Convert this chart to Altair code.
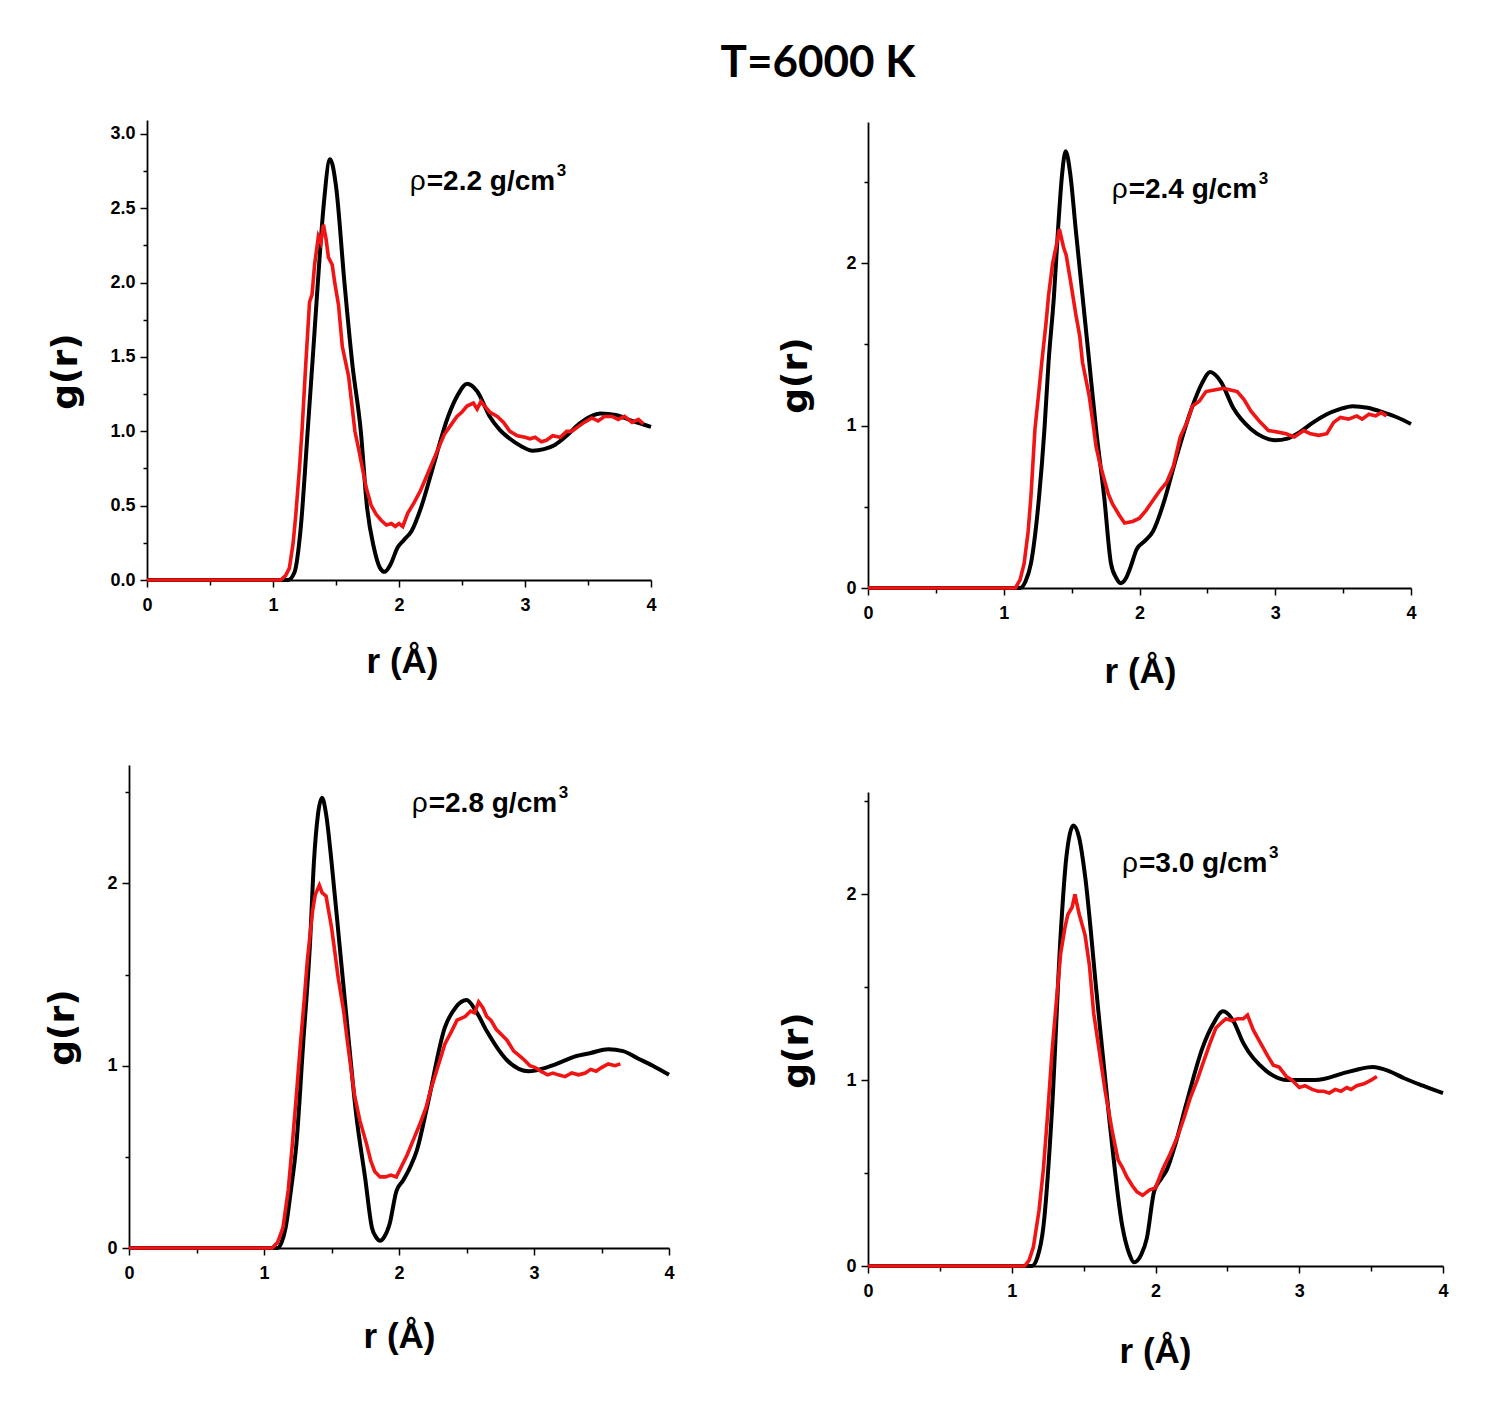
import altair as alt
import pandas as pd

# ---- g(r) curves at T = 6000 K, four densities ----
# black: reference model, red: simulation
R_BLACK_22 = [0, 1.12, 1.17, 1.22, 1.275, 1.32, 1.356, 1.40, 1.453, 1.50, 1.567, 1.63, 1.697, 1.745, 1.80, 1.85, 1.885, 1.93, 1.99, 2.04, 2.10, 2.18, 2.26, 2.39, 2.47, 2.54, 2.62, 2.72, 2.80, 2.88, 2.97, 3.06, 3.15, 3.24, 3.33, 3.43, 3.52, 3.60, 3.72, 3.85, 4.0]
G_BLACK_22 = [0, 0, 0.05, 0.35, 1.0, 1.55, 2.0, 2.5, 2.83, 2.65, 2.0, 1.45, 1.0, 0.5, 0.22, 0.08, 0.055, 0.10, 0.22, 0.27, 0.33, 0.50, 0.73, 1.10, 1.25, 1.32, 1.27, 1.10, 1.01, 0.95, 0.90, 0.87, 0.88, 0.91, 0.97, 1.05, 1.10, 1.12, 1.11, 1.07, 1.03]
R_RED_22 = [0, 1.06, 1.10, 1.13, 1.16, 1.18, 1.21, 1.23, 1.26, 1.29, 1.31, 1.33, 1.36, 1.38, 1.40, 1.42, 1.44, 1.47, 1.49, 1.52, 1.55, 1.58, 1.60, 1.63, 1.65, 1.68, 1.71, 1.74, 1.78, 1.82, 1.86, 1.90, 1.94, 1.97, 2.00, 2.03, 2.07, 2.12, 2.17, 2.22, 2.26, 2.31, 2.36, 2.41, 2.46, 2.50, 2.54, 2.59, 2.62, 2.65, 2.68, 2.72, 2.78, 2.83, 2.88, 2.94, 3.00, 3.04, 3.08, 3.13, 3.17, 3.22, 3.28, 3.33, 3.37, 3.42, 3.47, 3.53, 3.58, 3.63, 3.69, 3.74, 3.79, 3.85, 3.90, 3.94]
G_RED_22 = [0, 0, 0.03, 0.08, 0.25, 0.43, 0.75, 1.0, 1.45, 1.87, 1.92, 2.12, 2.31, 2.27, 2.39, 2.30, 2.17, 2.12, 2.0, 1.85, 1.57, 1.45, 1.37, 1.15, 1.0, 0.88, 0.75, 0.62, 0.50, 0.44, 0.40, 0.37, 0.38, 0.36, 0.38, 0.36, 0.45, 0.52, 0.60, 0.70, 0.78, 0.88, 0.98, 1.04, 1.10, 1.13, 1.17, 1.19, 1.15, 1.20, 1.17, 1.13, 1.10, 1.06, 1.00, 0.97, 0.96, 0.95, 0.96, 0.93, 0.94, 0.97, 0.96, 1.00, 1.00, 1.03, 1.06, 1.09, 1.07, 1.10, 1.10, 1.08, 1.10, 1.06, 1.08, 1.05]

R_BLACK_24 = [0, 1.12, 1.16, 1.20, 1.26, 1.30, 1.33, 1.37, 1.40, 1.43, 1.456, 1.49, 1.53, 1.58, 1.63, 1.68, 1.74, 1.79, 1.83, 1.86, 1.90, 1.93, 1.98, 2.04, 2.10, 2.18, 2.26, 2.39, 2.46, 2.52, 2.60, 2.69, 2.82, 2.91, 3.0, 3.09, 3.18, 3.28, 3.38, 3.47, 3.57, 3.68, 3.80, 3.90, 4.0]
G_BLACK_24 = [0, 0, 0.04, 0.15, 0.56, 0.98, 1.39, 1.80, 2.21, 2.55, 2.69, 2.55, 2.21, 1.80, 1.39, 0.98, 0.56, 0.15, 0.06, 0.03, 0.06, 0.12, 0.24, 0.29, 0.35, 0.53, 0.77, 1.12, 1.26, 1.33, 1.27, 1.11, 0.98, 0.93, 0.91, 0.92, 0.96, 1.02, 1.07, 1.10, 1.12, 1.11, 1.08, 1.05, 1.01]
R_RED_24 = [0, 1.086, 1.12, 1.15, 1.18, 1.20, 1.23, 1.26, 1.28, 1.31, 1.33, 1.36, 1.39, 1.41, 1.44, 1.46, 1.49, 1.53, 1.56, 1.58, 1.63, 1.66, 1.68, 1.71, 1.74, 1.77, 1.80, 1.85, 1.89, 1.95, 2.0, 2.05, 2.10, 2.15, 2.20, 2.25, 2.30, 2.35, 2.39, 2.44, 2.49, 2.55, 2.62, 2.67, 2.72, 2.77, 2.82, 2.88, 2.95, 3.02, 3.08, 3.14, 3.21, 3.26, 3.32, 3.38, 3.43, 3.48, 3.54, 3.60, 3.64, 3.69, 3.74, 3.78, 3.82]
G_RED_24 = [0, 0, 0.05, 0.15, 0.35, 0.56, 0.98, 1.22, 1.39, 1.62, 1.80, 2.00, 2.12, 2.21, 2.10, 2.05, 1.90, 1.69, 1.55, 1.39, 1.18, 1.00, 0.87, 0.76, 0.67, 0.58, 0.52, 0.45, 0.40, 0.41, 0.43, 0.48, 0.54, 0.60, 0.65, 0.75, 0.93, 1.02, 1.12, 1.15, 1.21, 1.22, 1.23, 1.22, 1.21, 1.16, 1.09, 1.03, 0.97, 0.96, 0.95, 0.93, 0.97, 0.95, 0.94, 0.95, 1.02, 1.05, 1.04, 1.06, 1.04, 1.07, 1.06, 1.08, 1.06]

R_BLACK_28 = [0, 1.10, 1.13, 1.16, 1.20, 1.24, 1.29, 1.34, 1.37, 1.40, 1.43, 1.46, 1.50, 1.56, 1.63, 1.68, 1.75, 1.80, 1.83, 1.86, 1.89, 1.93, 1.98, 2.03, 2.08, 2.13, 2.21, 2.34, 2.42, 2.50, 2.57, 2.65, 2.80, 2.96, 3.09, 3.20, 3.30, 3.42, 3.55, 3.66, 3.77, 3.88, 4.0]
G_BLACK_28 = [0, 0, 0.03, 0.11, 0.32, 0.57, 1.12, 1.66, 2.12, 2.38, 2.47, 2.38, 2.12, 1.66, 1.12, 0.75, 0.38, 0.11, 0.06, 0.04, 0.06, 0.13, 0.31, 0.37, 0.44, 0.53, 0.78, 1.21, 1.32, 1.36, 1.30, 1.19, 1.03, 0.97, 0.99, 1.02, 1.05, 1.07, 1.09, 1.08, 1.04, 1.0, 0.95]
R_RED_28 = [0, 1.06, 1.10, 1.14, 1.18, 1.21, 1.24, 1.27, 1.30, 1.32, 1.36, 1.38, 1.41, 1.43, 1.46, 1.50, 1.52, 1.55, 1.59, 1.62, 1.67, 1.71, 1.76, 1.79, 1.82, 1.86, 1.90, 1.94, 1.98, 2.02, 2.06, 2.11, 2.16, 2.20, 2.24, 2.29, 2.34, 2.39, 2.43, 2.46, 2.49, 2.53, 2.56, 2.59, 2.62, 2.65, 2.68, 2.72, 2.76, 2.80, 2.85, 2.90, 2.93, 2.97, 3.01, 3.05, 3.10, 3.14, 3.18, 3.23, 3.28, 3.33, 3.38, 3.42, 3.46, 3.50, 3.55, 3.60, 3.64]
G_RED_28 = [0, 0, 0.03, 0.11, 0.32, 0.57, 0.84, 1.12, 1.38, 1.57, 1.85, 1.94, 1.99, 1.95, 1.93, 1.76, 1.65, 1.48, 1.30, 1.12, 0.84, 0.70, 0.57, 0.48, 0.42, 0.39, 0.39, 0.40, 0.39, 0.45, 0.51, 0.60, 0.69, 0.77, 0.88, 1.00, 1.12, 1.19, 1.25, 1.26, 1.27, 1.30, 1.29, 1.35, 1.32, 1.27, 1.25, 1.20, 1.17, 1.14, 1.08, 1.05, 1.03, 1.00, 0.99, 0.97, 0.95, 0.96, 0.95, 0.94, 0.96, 0.95, 0.96, 0.98, 0.97, 0.99, 1.01, 1.00, 1.01]

R_BLACK_30 = [0, 1.14, 1.18, 1.22, 1.28, 1.34, 1.38, 1.43, 1.47, 1.51, 1.59, 1.68, 1.77, 1.82, 1.85, 1.90, 1.94, 1.99, 2.04, 2.08, 2.14, 2.21, 2.33, 2.40, 2.47, 2.54, 2.61, 2.77, 2.92, 3.11, 3.32, 3.42, 3.51, 3.62, 3.73, 3.86, 4.0]
G_BLACK_30 = [0, 0, 0.05, 0.21, 0.84, 1.78, 2.20, 2.37, 2.30, 2.10, 1.47, 0.78, 0.21, 0.06, 0.02, 0.06, 0.15, 0.40, 0.47, 0.52, 0.66, 0.86, 1.18, 1.30, 1.37, 1.32, 1.20, 1.05, 1.00, 1.00, 1.04, 1.06, 1.07, 1.05, 1.01, 0.97, 0.93]
R_RED_30 = [0, 1.09, 1.12, 1.15, 1.19, 1.22, 1.25, 1.28, 1.31, 1.34, 1.37, 1.39, 1.42, 1.44, 1.45, 1.47, 1.51, 1.54, 1.57, 1.61, 1.65, 1.70, 1.74, 1.77, 1.80, 1.84, 1.87, 1.91, 1.96, 2.00, 2.05, 2.10, 2.15, 2.20, 2.24, 2.29, 2.33, 2.38, 2.42, 2.46, 2.49, 2.53, 2.57, 2.61, 2.64, 2.68, 2.73, 2.78, 2.82, 2.86, 2.91, 2.95, 3.00, 3.04, 3.09, 3.13, 3.17, 3.21, 3.25, 3.29, 3.33, 3.36, 3.40, 3.45, 3.50, 3.54]
G_RED_30 = [0, 0, 0.03, 0.10, 0.30, 0.52, 0.82, 1.15, 1.42, 1.68, 1.82, 1.89, 1.93, 2.00, 1.96, 1.89, 1.78, 1.62, 1.36, 1.15, 0.94, 0.72, 0.57, 0.53, 0.48, 0.43, 0.40, 0.38, 0.41, 0.42, 0.52, 0.60, 0.69, 0.80, 0.90, 1.00, 1.09, 1.20, 1.28, 1.31, 1.33, 1.32, 1.33, 1.33, 1.35, 1.27, 1.20, 1.13, 1.08, 1.07, 1.02, 1.00, 0.96, 0.97, 0.95, 0.94, 0.94, 0.93, 0.95, 0.94, 0.96, 0.95, 0.97, 0.98, 1.0, 1.02]

DENSITIES = ["2.2", "2.4", "2.8", "3.0"]
X_TICKS = [0, 0.5, 1, 1.5, 2, 2.5, 3, 3.5, 4]

FONT = "Liberation Sans"
RED = "#f01414"

# Canvas: one shared drawing area below the figure title; each panel owns a
# pixel box inside it (left, right, bottom, top) via its scale ranges.
W, TOP = 1488, 100
H = 1417 - TOP

LAYOUT = [
    dict(box=(147, 651, 580, 120), ymax=3.094, minor=0.25, major=0.5, fmt=".1f",
         lx=2.22, ly=2.62, ytx=-82, yty=371, xtx=402, xty=92),
    dict(box=(868, 1411, 588, 122), ymax=2.87, minor=0.5, major=1, fmt="d",
         lx=1.92, ly=2.40, ytx=-73, yty=375, xtx=1140, xty=94),
    dict(box=(129, 669, 1248, 765), ymax=2.65, minor=0.5, major=1, fmt="d",
         lx=2.22, ly=2.39, ytx=-67, yty=1027, xtx=399, xty=99),
    dict(box=(868, 1443, 1266, 792), ymax=2.55, minor=0.5, major=1, fmt="d",
         lx=1.885, ly=2.12, ytx=-72, yty=1050, xtx=1155, xty=96),
]

CURVES = [
    (R_BLACK_22, G_BLACK_22, R_RED_22, G_RED_22),
    (R_BLACK_24, G_BLACK_24, R_RED_24, G_RED_24),
    (R_BLACK_28, G_BLACK_28, R_RED_28, G_RED_28),
    (R_BLACK_30, G_BLACK_30, R_RED_30, G_RED_30),
]


def panel(curves, density, cfg):
    rb, gb, rr, gr = curves
    black = pd.DataFrame({"r": rb, "g": gb})
    red = pd.DataFrame({"r": rr, "g": gr})
    left, right, bottom, top = cfg["box"]

    n = int(cfg["ymax"] / cfg["minor"] + 1e-6)
    y_ticks = [round(i * cfg["minor"], 2) for i in range(n + 1)]
    major = cfg["major"]
    fmt = cfg["fmt"]
    is_major = f"abs(datum.value / {major} - round(datum.value / {major})) < 0.001"

    x_axis = alt.Axis(
        orient="bottom", offset=(bottom - TOP) - H,
        values=X_TICKS, title="r (Å)",
        labelExpr="datum.value % 1 == 0 ? format(datum.value, 'd') : ''",
        tickSize={"condition": {"test": "datum.value % 1 == 0", "value": 7}, "value": 5},
        labelFont=FONT, labelFontSize=18, labelFontWeight="bold", labelColor="black",
        labelPadding=9, labelFlush=False,
        titleFont=FONT, titleFontSize=35, titleFontWeight="bold", titleColor="black",
        titleX=cfg["xtx"], titleY=cfg["xty"], titleBaseline="alphabetic",
        domainColor="black", domainWidth=1.8, tickColor="black", tickWidth=1.5,
        grid=False,
    )
    y_axis = alt.Axis(
        orient="left", offset=-left,
        values=y_ticks, title="g(r)",
        labelExpr=f"{is_major} ? format(datum.value, '{fmt}') : ''",
        tickSize={"condition": {"test": is_major, "value": 7}, "value": 4},
        labelFont=FONT, labelFontSize=18, labelFontWeight="bold", labelColor="black",
        labelPadding=5, labelFlush=False,
        titleFont="DejaVu Sans", titleFontSize=36, titleFontWeight="bold", titleColor="black",
        titleX=cfg["ytx"], titleY=cfg["yty"] - TOP, titleBaseline="middle", titleAngle=270,
        domainColor="black", domainWidth=1.8, tickColor="black", tickWidth=1.5,
        grid=False,
    )
    xs = alt.Scale(domain=[0, 4], range=[left, right], nice=False, zero=False)
    ys = alt.Scale(domain=[0, cfg["ymax"]], range=[bottom - TOP, top - TOP], nice=False, zero=False)
    X = alt.X("r:Q", scale=xs, axis=x_axis)
    Y = alt.Y("g:Q", scale=ys, axis=y_axis)
    Xp = alt.X("r:Q", scale=xs)
    Yp = alt.Y("g:Q", scale=ys)

    base_black = alt.Chart(black).mark_line(
        color="black", strokeWidth=4, interpolate="monotone"
    ).encode(x=X, y=Y)
    base_red = alt.Chart(red).mark_line(
        color=RED, strokeWidth=3.6, interpolate="linear"
    ).encode(x=Xp, y=Yp)

    lab = pd.DataFrame({"r": [cfg["lx"]], "g": [cfg["ly"]],
                        "rho": ["ρ"], "main": [f"={density} g/cm"], "sup": ["3"]})
    rho = alt.Chart(lab).mark_text(
        align="right", baseline="alphabetic", font=FONT, fontSize=28, dx=-1, color="black"
    ).encode(x=Xp, y=Yp, text="rho:N")
    main = alt.Chart(lab).mark_text(
        align="left", baseline="alphabetic", font=FONT, fontSize=28, fontWeight="bold", color="black"
    ).encode(x=Xp, y=Yp, text="main:N")
    sup = alt.Chart(lab).mark_text(
        align="left", baseline="alphabetic", font=FONT, fontSize=17, fontWeight="bold",
        dx=130, dy=-14, color="black"
    ).encode(x=Xp, y=Yp, text="sup:N")

    return alt.layer(base_black, base_red, rho, main, sup)


panels = [panel(c, d, cfg) for c, d, cfg in zip(CURVES, DENSITIES, LAYOUT)]

chart = alt.layer(*panels).resolve_scale(
    x="independent", y="independent"
).resolve_axis(
    x="independent", y="independent"
).properties(
    width=W, height=H,
    title=alt.TitleParams("T=6000 K", font="Lato", fontSize=44, fontWeight="bold",
                          color="black", anchor="middle", frame="group",
                          baseline="alphabetic", dx=74, dy=44, offset=23),
    padding={"left": 0, "top": TOP, "right": 0, "bottom": 0},
    autosize=alt.AutoSizeParams(type="none"),
    background="white",
).configure_view(strokeWidth=0, stroke="transparent")

chart.save("out.html", embed_options={"renderer": "svg", "actions": False})
